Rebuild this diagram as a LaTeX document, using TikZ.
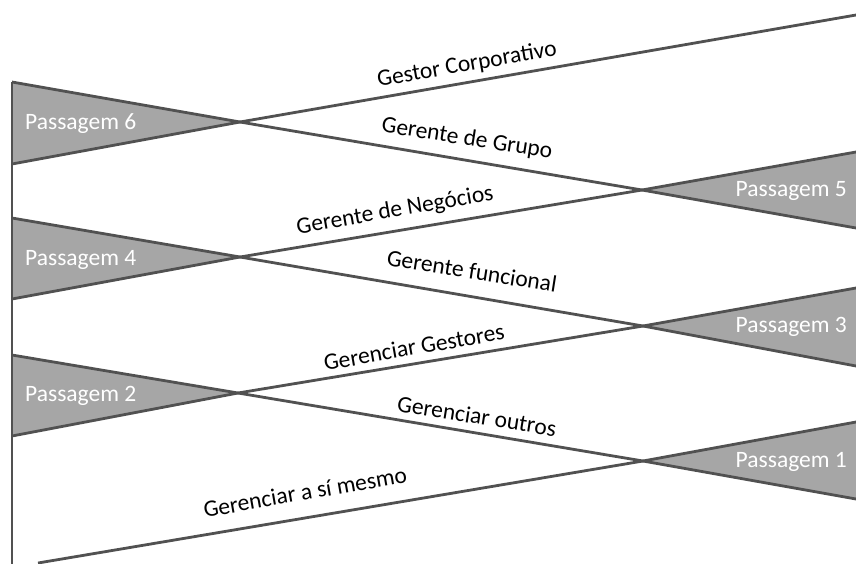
\documentclass[tikz,border=0pt]{standalone}
\usepackage{fontspec}
\setmainfont{Carlito}
\definecolor{linegray}{HTML}{515151}
\definecolor{fillgray}{HTML}{A6A6A6}
\tikzset{
  ln/.style={draw=linegray, line width=2.8pt, line join=round},
  tri/.style={fill=fillgray, draw=none},
  lbl/.style={font=\fontsize{23.5}{26}\selectfont, text=black, inner sep=0pt},
  pass/.style={font=\fontsize{23.5}{26}\selectfont, text=white, inner sep=0pt},
}
\begin{document}
\begin{tikzpicture}[x=1pt,y=-1pt]
\useasboundingbox (0,0) rectangle (856,563);
\clip (0,0) rectangle (856,563);
% points
\coordinate (A6) at (240,122);
\coordinate (A4) at (240,257);
\coordinate (A2) at (238,393);
\coordinate (B5) at (642,190);
\coordinate (B3) at (643,326);
\coordinate (B1) at (643,461);
\coordinate (L6t) at (12,82);
\coordinate (L6b) at (12,164);
\coordinate (L4t) at (12,218);
\coordinate (L4b) at (12,299);
\coordinate (L2t) at (12,355);
\coordinate (L2b) at (12,436);
\coordinate (R5t) at (856,152);
\coordinate (R5b) at (856,228);
\coordinate (R3t) at (856,288);
\coordinate (R3b) at (856,366);
\coordinate (R1t) at (856,422);
\coordinate (R1b) at (856,499);
\coordinate (Rtop) at (856,15);
\coordinate (Lbot) at (38,563);
\coordinate (Vtop) at (12,82);
\coordinate (Vbot) at (12,566);
% triangles
\path[tri] (L6t) -- (A6) -- (L6b) -- cycle;
\path[tri] (L4t) -- (A4) -- (L4b) -- cycle;
\path[tri] (L2t) -- (A2) -- (L2b) -- cycle;
\path[tri] (B5) -- (R5t) -- (R5b) -- cycle;
\path[tri] (B3) -- (R3t) -- (R3b) -- cycle;
\path[tri] (B1) -- (R1t) -- (R1b) -- cycle;
% lines
\draw[ln] (L6t) -- (A6) -- (B5) -- (R5b);
\draw[ln] (L6b) -- (A6) -- (Rtop);
\draw[ln] (L4t) -- (A4) -- (B3) -- (R3b);
\draw[ln] (L4b) -- (A4) -- (B5) -- (R5t);
\draw[ln] (L2t) -- (A2) -- (B1) -- (R1b);
\draw[ln] (L2b) -- (A2) -- (B3) -- (R3t);
\draw[ln] (Lbot) -- (B1) -- (R1t);
\draw[ln] (Vtop) -- (Vbot);
% passage labels
\node[pass, anchor=west] (p6) at (25,124) {Passagem 6};
\node[pass, anchor=west] (p4) at (25,260) {Passagem 4};
\node[pass, anchor=west] (p2) at (25,396) {Passagem 2};
\node[pass, anchor=east] (p5) at (847,191) {Passagem 5};
\node[pass, anchor=east] (p3) at (847,327) {Passagem 3};
\node[pass, anchor=east] (p1) at (847,462) {Passagem 1};
% stage labels
\node[lbl, rotate=10] (t1) at (467,65) {Gestor Corporativo};
\node[lbl, rotate=-9] (t2) at (467,139) {Gerente de Grupo};
\node[lbl, rotate=10] (t3) at (395,211) {Gerente de Negócios};
\node[lbl, rotate=-9] (t4) at (472,271) {Gerente funcional};
\node[lbl, rotate=10] (t5) at (414,347) {Gerenciar Gestores};
\node[lbl, rotate=-9] (t6) at (477,416) {Gerenciar outros};
\node[lbl, rotate=10] (t7) at (305,492) {Gerenciar a sí mesmo};
\end{tikzpicture}
\end{document}
